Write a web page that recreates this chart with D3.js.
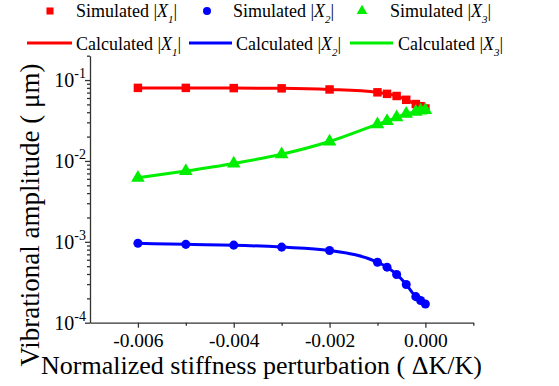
<!DOCTYPE html>
<html>
<head>
<meta charset="utf-8">
<script src="https://cdn.jsdelivr.net/npm/d3@7"></script>
<style>
  body { margin: 0; background: #fff; }
</style>
</head>
<body>
<svg id="chart" width="559" height="386"></svg>
<script>
// stiffness perturbation values (dK/K)
var dk = [-0.006, -0.005, -0.004, -0.003, -0.002, -0.001, -0.0008, -0.0006, -0.0004, -0.0002, -0.0001, 0]
// amplitudes in um
var x1 = [0.080, 0.080, 0.0795, 0.079, 0.0765, 0.0705, 0.0675, 0.0635, 0.057, 0.0505, 0.0475, 0.0445]
var x2 = [0.00096, 0.00093, 0.00091, 0.00086, 0.00078, 0.00056, 0.000486, 0.000395, 0.000297, 0.00021, 0.000188, 0.00017]
var x3 = [0.0062, 0.0075, 0.0093, 0.0121, 0.0174, 0.0283, 0.031, 0.0345, 0.0383, 0.0405, 0.042, 0.0425]
var seriesNames = ['1', '2', '3']
var colors = ['#ff0000', '#0000ff', '#00ee00']
var xMajor = [-0.006, -0.004, -0.002, 0]
var xMinor = [-0.005, -0.003, -0.001, 0.001]
var yMajor = [1e-4, 1e-3, 1e-2, 1e-1]

var fontName = 'Liberation Serif'

var svg = d3.select('#chart')

var x = d3.scaleLinear().domain([-0.007, 0.001]).range([90, 473.3])
var y = d3.scaleLog().domain([1e-4, 0.2]).range([322.7, 55.7])

var axisColor = '#333'

// x axis
var gx = svg.append('g').attr('transform', 'translate(0,' + y.range()[0] + ')')
gx.append('g').call(d3.axisBottom(x).tickValues(xMinor).tickSize(3).tickFormat(''))
  .select('.domain').remove()
var gxMajor = gx.append('g')
  .call(d3.axisBottom(x).tickValues(xMajor).tickSize(5).tickSizeOuter(0)
    .tickFormat(function(d) { return d === 0 ? '0.000' : d3.format('.3f')(d).replace('\u2212', '-') }))
gx.selectAll('path, line').attr('stroke', axisColor).attr('stroke-width', 1.3)
gxMajor.selectAll('text').attr('font-size', 19.5).attr('fill', '#000')
  .attr('y', 24.5).attr('dy', 0)

// y axis, minor ticks 2..9 each decade
var yMinor = []
yMajor.forEach(function(p) {
  for (var k = 2; k <= 9; k++) {
    var v = p * k
    if (v <= 0.2) yMinor.push(v)
  }
})
var gy = svg.append('g').attr('transform', 'translate(' + x.range()[0] + ',0)')
gy.call(d3.axisLeft(y).tickValues(yMajor).tickSize(5).tickSizeOuter(0).tickFormat(''))
gy.append('g').call(d3.axisLeft(y).tickValues(yMinor).tickSize(3).tickFormat(''))
  .select('.domain').remove()
gy.selectAll('path, line').attr('stroke', axisColor).attr('stroke-width', 1.3)

yMajor.forEach(function(v) {
  var t = svg.append('text')
    .attr('x', 86).attr('y', y(v) + 7)
    .attr('text-anchor', 'end')
    .attr('font-size', 20)
  t.append('tspan').text('10')
  t.append('tspan').attr('font-size', 14).attr('dy', -9).text(String(Math.round(Math.log10(v))))
})

// axis titles
svg.append('text')
  .attr('x', 261.5).attr('y', 374)
  .attr('text-anchor', 'middle')
  .attr('font-size', 26)
  .text('Normalized stiffness perturbation ( \u0394K/K)')

svg.append('text')
  .attr('transform', 'translate(38.5,215) rotate(-90)')
  .attr('text-anchor', 'middle')
  .attr('font-size', 27)
  .text('Vibrational amplitude ( \u03bcm)')

// lines
var allSeries = [x1, x2, x3]
var line = d3.line()
  .x(function(d) { return x(d[0]) })
  .y(function(d) { return y(d[1]) })
  .curve(d3.curveMonotoneX)

allSeries.forEach(function(s, i) {
  var pts = dk.map(function(k, j) { return [k, s[j]] })
  svg.append('path')
    .datum(pts)
    .attr('d', line)
    .attr('fill', 'none')
    .attr('stroke', colors[i])
    .attr('stroke-width', 3)
})

// markers
var symbols = [d3.symbolSquare, d3.symbolCircle, d3.symbolTriangle]
var sizes = [72, 64, 80]
allSeries.forEach(function(s, i) {
  svg.append('g').selectAll('path')
    .data(dk.map(function(k, j) { return [k, s[j]] }))
    .enter()
    .append('path')
    .attr('d', d3.symbol().type(symbols[i]).size(sizes[i]))
    .attr('transform', function(d) { return 'translate(' + x(d[0]) + ',' + y(d[1]) + ')' })
    .attr('fill', colors[i])
})

// legend
function labelX(t, prefix, n) {
  t.append('tspan').text(prefix + ' |')
  t.append('tspan').attr('font-style', 'italic').text('X')
  t.append('tspan').attr('font-style', 'italic').attr('font-size', 11).attr('dy', 6).text(n)
  t.append('tspan').attr('dy', -6).text('|')
}

var simX = [50, 207, 362]
var simTextX = [76, 233, 390]
seriesNames.forEach(function(n, i) {
  svg.append('path')
    .attr('d', d3.symbol().type(symbols[i]).size(50))
    .attr('transform', 'translate(' + simX[i] + ',11)')
    .attr('fill', colors[i])
  var t = svg.append('text').attr('x', simTextX[i]).attr('y', 17).attr('font-size', 18)
  labelX(t, 'Simulated', n)
})

var calLine = [[27, 72], [189, 232], [350, 393]]
var calTextX = [76, 236, 398]
seriesNames.forEach(function(n, i) {
  svg.append('line')
    .attr('x1', calLine[i][0]).attr('x2', calLine[i][1])
    .attr('y1', 43).attr('y2', 43)
    .attr('stroke', colors[i]).attr('stroke-width', 3)
  var t = svg.append('text').attr('x', calTextX[i]).attr('y', 50).attr('font-size', 18)
  labelX(t, 'Calculated', n)
})

// serif face on every text
svg.selectAll('g').attr('font-family', null)
svg.selectAll('text').attr('font-family', fontName)
</script>
</body>
</html>
